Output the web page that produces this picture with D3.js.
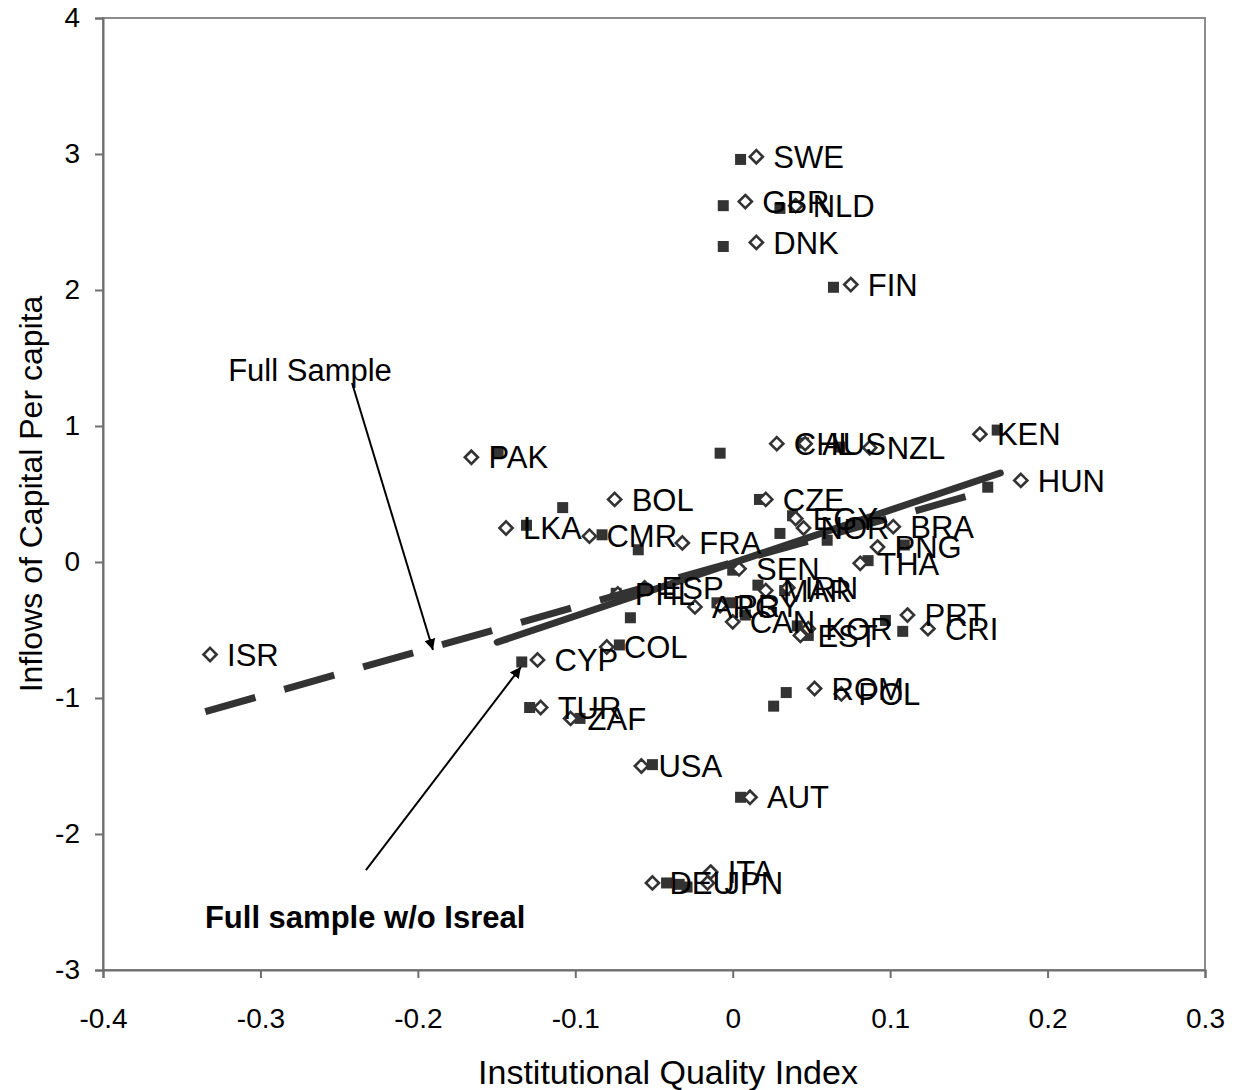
<!DOCTYPE html>
<html lang="en">
<head>
  <meta charset="utf-8">
  <title>institutional quality vs capital inflows</title>
  <script type="text/javascript" src="https://cdn.jsdelivr.net/npm/d3@7"></script>
  <style>
    body {
      margin: 0px;
      background: white;
    }
    svg {
      display: block;
      font-family: "Liberation Sans", Arial, sans-serif;
    }
  </style>
</head>
<body>
  <script type="text/javascript">
    // Country codes, full-sample points (diamonds) and w/o-Israel points (squares)
    var countries = ["SWE", "GBR", "NLD", "DNK", "FIN", "KEN", "HUN", "CHL", "AUS", "NZL",
                     "PAK", "BOL", "LKA", "CMR", "FRA", "CZE", "EGY", "NOR", "BRA", "PNG",
                     "THA", "SEN", "PHL", "ESP", "ARG", "PRY", "MAR", "IRN", "CAN", "KOR",
                     "EST", "PRT", "CRI", "ISR", "CYP", "COL", "TUR", "ZAF", "ROM", "POL",
                     "USA", "AUT", "ITA", "DEU", "JPN"];
    var fullX = [0.015, 0.008, 0.040, 0.015, 0.075, 0.157, 0.183, 0.028, 0.046, 0.087,
                 -0.166, -0.075, -0.144, -0.091, -0.032, 0.021, 0.040, 0.045, 0.102, 0.092,
                 0.081, 0.004, -0.073, -0.056, -0.024, -0.008, 0.021, 0.035, 0.000, 0.048,
                 0.043, 0.111, 0.124, -0.332, -0.124, -0.080, -0.122, -0.103, 0.052, 0.069,
                 -0.058, 0.011, -0.014, -0.051, -0.016];
    var fullY = [2.98, 2.65, 2.62, 2.35, 2.04, 0.94, 0.60, 0.87, 0.87, 0.84,
                 0.77, 0.46, 0.25, 0.19, 0.14, 0.46, 0.32, 0.25, 0.26, 0.11,
                 -0.01, -0.05, -0.235, -0.19, -0.33, -0.32, -0.21, -0.19, -0.44, -0.49,
                 -0.54, -0.39, -0.49, -0.68, -0.72, -0.625, -1.07, -1.15, -0.93, -0.97,
                 -1.50, -1.73, -2.28, -2.36, -2.36];
    var subX = [0.005, -0.006, 0.030, -0.006, 0.064, 0.168, 0.162, -0.008, 0.045, 0.068,
                -0.149, -0.108, -0.131, -0.083, -0.060, 0.017, 0.038, 0.030, 0.060, 0.109,
                0.086, 0.000, -0.074, -0.065, -0.010, -0.002, 0.016, 0.033, 0.008, 0.041,
                0.048, 0.097, 0.108, null, -0.134, -0.072, -0.129, -0.097, 0.034, 0.026,
                -0.051, 0.005, -0.029, -0.042, -0.034];
    var subY = [2.96, 2.62, 2.60, 2.32, 2.02, 0.97, 0.55, 0.80, 0.875, 0.845,
                0.81, 0.40, 0.27, 0.20, 0.09, 0.46, 0.34, 0.21, 0.16, 0.125,
                0.01, -0.06, -0.23, -0.41, -0.30, -0.30, -0.17, -0.21, -0.39, -0.47,
                -0.54, -0.43, -0.51, null, -0.735, -0.61, -1.07, -1.15, -0.96, -1.06,
                -1.49, -1.73, -2.39, -2.36, -2.37];

    // Fitted lines: [x, y] end points
    var fullFit = [[-0.335, -1.10], [0.163, 0.53]];
    var noIsrFit = [[-0.1496, -0.59], [0.170, 0.654]];

    var xTicks = [-0.4, -0.3, -0.2, -0.1, 0, 0.1, 0.2, 0.3];
    var yTicks = [-3, -2, -1, 0, 1, 2, 3, 4];

    var width = 1238;
    var height = 1090;
    var x = d3.scaleLinear().domain([-0.4, 0.3]).range([103, 1205]);
    var y = d3.scaleLinear().domain([-3, 4]).range([970, 18]);

    var svg = d3.select("body").append("svg")
      .attr("width", width)
      .attr("height", height);

    svg.append("rect")
      .attr("width", width).attr("height", height)
      .attr("fill", "white");

    // Plot frame
    svg.append("rect")
      .attr("x", x(-0.4)).attr("y", y(4))
      .attr("width", x(0.3) - x(-0.4)).attr("height", y(-3) - y(4))
      .attr("fill", "none")
      .attr("stroke", "#8c8c8c")
      .attr("stroke-width", 2);

    // Axes (plain hyphen for negatives, as in the original)
    var fmtX = function(d) {
      if (d === 0) return "0";
      return (d < 0 ? "-" : "") + d3.format(".1f")(Math.abs(d));
    };
    var fmtY = function(d) { return String(d); };
    var xAxis = svg.append("g")
      .attr("transform", "translate(0," + y(-3) + ")")
      .call(d3.axisBottom(x).tickValues(xTicks).tickFormat(fmtX).tickSizeOuter(0).tickSize(8).tickPadding(40));
    var yAxis = svg.append("g")
      .attr("transform", "translate(" + x(-0.4) + ",0)")
      .call(d3.axisLeft(y).tickValues(yTicks).tickFormat(fmtY).tickSizeOuter(0).tickSize(8).tickPadding(15));
    [xAxis, yAxis].forEach(function(ax) {
      ax.select(".domain").attr("stroke", "#6e6e6e").attr("stroke-width", 2);
      ax.selectAll(".tick line").attr("stroke", "#6e6e6e").attr("stroke-width", 2);
      ax.selectAll(".tick text")
        .attr("fill", "black")
        .style("font-size", "28px")
        .style("font-family", "Liberation Sans, Arial, sans-serif");
    });
    xAxis.selectAll(".tick text").attr("dy", "0.36em");

    // Axis titles
    svg.append("text")
      .attr("x", 668)
      .attr("y", 1072)
      .attr("dy", "0.36em")
      .attr("text-anchor", "middle")
      .style("font-size", "34px")
      .text("Institutional Quality Index");
    svg.append("text")
      .attr("transform", "translate(30,494) rotate(-90)")
      .attr("dy", "0.36em")
      .attr("text-anchor", "middle")
      .style("font-size", "32px")
      .text("Inflows of Capital Per capita");

    var points = countries.map(function(c, i) {
      return {name: c, fx: fullX[i], fy: fullY[i], sx: subX[i], sy: subY[i]};
    });

    // Squares (sample without Israel)
    svg.selectAll("rect.sq")
      .data(points.filter(function(d) { return d.sx !== null; }))
      .enter().append("rect")
      .attr("class", "sq")
      .attr("x", function(d) { return x(d.sx) - 5.5; })
      .attr("y", function(d) { return y(d.sy) - 5.5; })
      .attr("width", 11).attr("height", 11)
      .attr("fill", "#333");

    // Diamonds (full sample)
    var diamond = d3.symbol().type(d3.symbolDiamond2).size(110);
    svg.selectAll("path.dm")
      .data(points)
      .enter().append("path")
      .attr("class", "dm")
      .attr("d", diamond)
      .attr("transform", function(d) { return "translate(" + x(d.fx) + "," + y(d.fy) + ")"; })
      .attr("fill", "white")
      .attr("stroke", "#333")
      .attr("stroke-width", 2.6);

    // Fit lines
    var line = d3.line().x(function(d) { return x(d[0]); }).y(function(d) { return y(d[1]); });
    svg.append("path")
      .attr("d", line(fullFit))
      .attr("fill", "none")
      .attr("stroke", "#333")
      .attr("stroke-width", 7)
      .attr("stroke-dasharray", "52,30");
    svg.append("path")
      .attr("d", line(noIsrFit))
      .attr("fill", "none")
      .attr("stroke", "#333")
      .attr("stroke-width", 7)
      .attr("stroke-linecap", "round");

    // Country labels
    svg.selectAll("text.lbl")
      .data(points)
      .enter().append("text")
      .attr("class", "lbl")
      .attr("x", function(d) { return x(d.fx) + 17; })
      .attr("y", function(d) { return y(d.fy); })
      .attr("dy", "0.36em")
      .style("font-size", "31px")
      .text(function(d) { return d.name; });

    // Annotations with arrows
    svg.append("defs").append("marker")
      .attr("id", "arrow")
      .attr("viewBox", "0 0 10 10")
      .attr("refX", 10).attr("refY", 5)
      .attr("markerWidth", 11).attr("markerHeight", 11)
      .attr("markerUnits", "userSpaceOnUse")
      .attr("orient", "auto")
      .append("path")
      .attr("d", "M0,0L10,5L0,10Z")
      .attr("fill", "black");
    var notes = [
      {text: "Full Sample", bold: false, at: [-0.2685, 1.41], from: [-0.2418, 1.316], to: [-0.1904, -0.647]},
      {text: "Full sample w/o Isreal", bold: true, at: [-0.2335, -2.61], from: [-0.233, -2.265], to: [-0.1345, -0.772]}
    ];
    notes.forEach(function(n) {
      svg.append("line")
        .attr("x1", x(n.from[0])).attr("y1", y(n.from[1]))
        .attr("x2", x(n.to[0])).attr("y2", y(n.to[1]))
        .attr("stroke", "black")
        .attr("stroke-width", 2)
        .attr("marker-end", "url(#arrow)");
      svg.append("text")
        .attr("x", x(n.at[0])).attr("y", y(n.at[1]))
        .attr("dy", "0.36em")
        .attr("text-anchor", "middle")
        .style("font-size", "31px")
        .style("font-weight", n.bold ? "bold" : "normal")
        .text(n.text);
    });
  </script>
</body>
</html>
